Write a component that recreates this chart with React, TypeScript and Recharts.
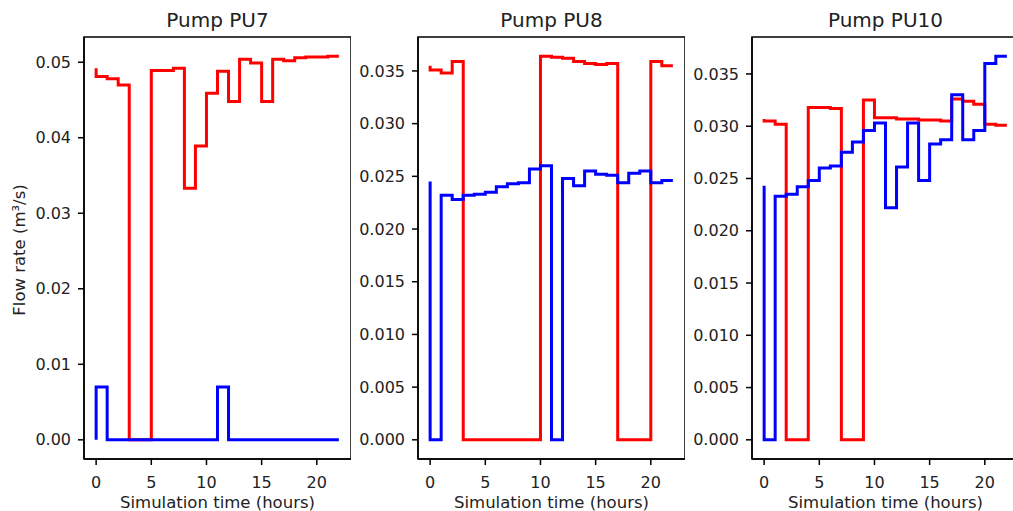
import { Line, LineChart, ReferenceArea, XAxis, YAxis } from "recharts"

const HOURS = [0, 1, 2, 3, 4, 5, 6, 7, 8, 9, 10, 11, 12, 13, 14, 15, 16, 17, 18, 19, 20, 21, 22]
const X_TICKS = [0, 5, 10, 15, 20]

const PU7_RED = [0.0492, 0.0481, 0.0478, 0.0470, 0, 0, 0.0489, 0.0489, 0.0492, 0.0333, 0.0389, 0.0459, 0.0488, 0.0448, 0.0504, 0.0499, 0.0448, 0.0504, 0.0502, 0.0506, 0.0507, 0.0507, 0.0508]
const PU7_BLUE = [0, 0.007, 0, 0, 0, 0, 0, 0, 0, 0, 0, 0, 0.007, 0, 0, 0, 0, 0, 0, 0, 0, 0, 0]

const PU8_RED = [0.0355, 0.0351, 0.0348, 0.0359, 0, 0, 0, 0, 0, 0, 0, 0.0364, 0.0363, 0.0362, 0.0359, 0.0357, 0.0356, 0.0357, 0, 0, 0, 0.0359, 0.0355]
const PU8_BLUE = [0.0245, 0, 0.0232, 0.0228, 0.0232, 0.0233, 0.0235, 0.0240, 0.0243, 0.0244, 0.0257, 0.0260, 0, 0.0248, 0.0241, 0.0255, 0.0252, 0.0251, 0.0244, 0.0253, 0.0255, 0.0244, 0.0246]

const PU10_RED = [0.0307, 0.0305, 0.0302, 0, 0, 0.0318, 0.0318, 0.0317, 0, 0, 0.0325, 0.0308, 0.0308, 0.0307, 0.0307, 0.0306, 0.0306, 0.0305, 0.0326, 0.0324, 0.0321, 0.0302, 0.0301]
const PU10_BLUE = [0.0243, 0, 0.0233, 0.0235, 0.0242, 0.0248, 0.0260, 0.0262, 0.0275, 0.0285, 0.0296, 0.0303, 0.0222, 0.0261, 0.0303, 0.0248, 0.0283, 0.0287, 0.0330, 0.0287, 0.0296, 0.0360, 0.0367]

const Y_TICKS_PU7 = [0, 0.01, 0.02, 0.03, 0.04, 0.05]
const Y_TICKS_SMALL = [0, 0.005, 0.01, 0.015, 0.02, 0.025, 0.03, 0.035]

const FONT = "DejaVu Sans"
const TEXT = "#222"
const PLOT_W = 267

type PanelProps = {
    title: string
    red: number[]
    blue: number[]
    yTicks: number[]
    decimals: number
    left: number
    axisWidth: number
    yLabel?: boolean
}

function Panel({ title, red, blue, yTicks, decimals, left, axisWidth, yLabel }: PanelProps) {
    const data = HOURS.map((h, i) => ({ hour: h, red: red[i], blue: blue[i] }))
    const all = [...red, ...blue]
    const lo = Math.min(...all)
    const hi = Math.max(...all)
    // matplotlib-style 5% margins
    const yDomain = [lo - (hi - lo) * 0.05, hi + (hi - lo) * 0.05]
    const xDomain = [HOURS[0] - 1.1, HOURS[HOURS.length - 1] + 1.1]

    return (
        <div style={{ position: 'absolute', left: left, top: 0 }}>
            <div style={{ position: 'absolute', left: axisWidth, top: 8, width: PLOT_W, textAlign: 'center', fontFamily: FONT, fontSize: 20, lineHeight: '24px', color: TEXT }}>
                {title}
            </div>
            <LineChart width={axisWidth + PLOT_W} height={511} data={data} margin={{ top: 37, right: 0, bottom: 0, left: 0 }}>
                <XAxis dataKey="hour" type="number" domain={xDomain} allowDataOverflow ticks={X_TICKS} height={52}
                    tickSize={6} tickMargin={12} stroke="#000" strokeWidth={1.5}
                    tick={{ fill: TEXT, fontSize: 16, fontFamily: FONT }}
                    label={{ value: 'Simulation time (hours)', position: 'insideBottom', offset: 3, fill: TEXT, fontSize: 16.5, fontFamily: FONT }} />
                <YAxis type="number" domain={yDomain} allowDataOverflow ticks={yTicks} width={axisWidth}
                    tickSize={6} tickMargin={7} stroke="#000" strokeWidth={1.5}
                    tickFormatter={(v: number) => v.toFixed(decimals)}
                    tick={{ fill: TEXT, fontSize: 16, fontFamily: FONT }}
                    label={yLabel ? {
                        content: () => (
                            <text x={19} y={250} transform="rotate(-90, 19, 250)" textAnchor="middle" dominantBaseline="central"
                                fontSize={16.5} fontFamily={FONT} fill={TEXT}>Flow rate (m³/s)</text>
                        )
                    } : undefined} />
                <ReferenceArea x1={xDomain[0]} x2={xDomain[1]} y1={yDomain[0]} y2={yDomain[1]} fill="none" stroke="#000" strokeWidth={1.5} />
                <Line dataKey="red" type="stepBefore" stroke="#ff0000" strokeWidth={3} dot={false} isAnimationActive={false} />
                <Line dataKey="blue" type="stepBefore" stroke="#0000ff" strokeWidth={3} dot={false} isAnimationActive={false} />
            </LineChart>
        </div>
    )
}

export default function App() {
    return (
        <div style={{ position: 'absolute', left: 0, top: 0, width: 1013, height: 511, overflow: 'hidden', background: '#fff' }}>
            <Panel title="Pump PU7" red={PU7_RED} blue={PU7_BLUE} yTicks={Y_TICKS_PU7} decimals={2} left={0} axisWidth={84} yLabel />
            <Panel title="Pump PU8" red={PU8_RED} blue={PU8_BLUE} yTicks={Y_TICKS_SMALL} decimals={3} left={358} axisWidth={60} />
            <Panel title="Pump PU10" red={PU10_RED} blue={PU10_BLUE} yTicks={Y_TICKS_SMALL} decimals={3} left={692} axisWidth={60} />
        </div>
    )
}
